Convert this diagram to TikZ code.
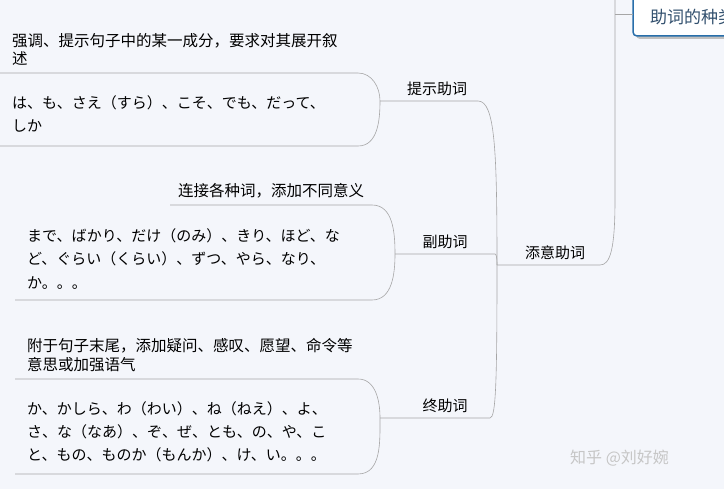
\documentclass[tikz,border=0pt]{standalone}
\usepackage{fontspec}
\setmainfont{Noto Sans CJK SC}
\begin{document}
\begin{tikzpicture}[x=1pt,y=-1pt,
  lbl/.style={anchor=west,inner sep=0pt,font=\fontsize{15}{18}\selectfont,text=black},
  br/.style={draw=gray!70,line width=0.6pt},
  lnk/.style={draw=gray!70,line width=0.6pt}]
\fill[fill={rgb,255:red,244;green,246;blue,251}] (0,0) rectangle (724,489);
\useasboundingbox (0,0) rectangle (724,489);
\begin{scope}
\clip (0,0) rectangle (724,489);
\fill[black!25,rounded corners=4pt] (636,-10) rectangle (730,39);
\draw[draw={rgb,255:red,40;green,110;blue,170},line width=1.5pt,fill=white,rounded corners=4pt] (633,-10) rectangle (740,36);
\node[anchor=west,inner sep=0pt,font=\fontsize{17}{20}\selectfont,text={rgb,255:red,50;green,80;blue,110}] (root) at (650,17) {助词的种类};
\end{scope}
\coordinate (rootL) at (633,14);
\coordinate (top) at (615,0);
\coordinate (tyE) at (600,265);
\coordinate (tyW) at (497,265);
\coordinate (tsE) at (478,101);
\coordinate (tsW) at (380,101);
\coordinate (fE) at (495,254);
\coordinate (fW) at (395,254);
\coordinate (zE) at (490,418);
\coordinate (zW) at (380,418);
% trunk
\draw[lnk] (rootL) -- (615,14);
\draw[lnk] (top) -- (615,200) .. controls (615,250) and (610,265) .. (tyE) -- (tyW);
\node[lbl,anchor=south] (ty) at (555,260) {添意助词};
\draw[lnk] (tyW) .. controls (497,150) and (495,101) .. (tsE) -- (tsW);
\draw[lnk] (tyW) .. controls (497,256) and (496,254) .. (fE) -- (fW);
\draw[lnk] (tyW) .. controls (497,380) and (496,418) .. (zE) -- (zW);
\node[lbl,anchor=south] (ts) at (437,96) {提示助词};
\node[lbl,anchor=south] (f) at (445,249) {副助词};
\node[lbl,anchor=south] (z) at (445,413) {终助词};
% group 1
\draw[br] (0,73) -- (358,73) to[out=0,in=90] (tsW) to[out=-90,in=0] (358,146) -- (0,146);
\node[lbl,align=left,anchor=north west,font=\fontsize{15.5}{18}\selectfont] (t1a) at (12,33) {强调、提示句子中的某一成分，要求对其展开叙\\述};
\node[lbl,align=left,anchor=north west,font=\fontsize{15}{23}\selectfont] (t1b) at (12,95) {は、も、さえ（すら）、こそ、でも、だって、\\しか};
% group 2
\draw[br] (170,205) -- (372,205) to[out=0,in=90] (fW) to[out=-90,in=0] (372,300) -- (15,300);
\node[lbl,font=\fontsize{15.5}{18}\selectfont] (t2a) at (178,191) {连接各种词，添加不同意义};
\node[lbl,align=left,anchor=north west,font=\fontsize{15}{23.5}\selectfont] (t2b) at (27,228) {まで、ばかり、だけ（のみ）、きり、ほど、な\\ど、ぐらい（くらい）、ずつ、やら、なり、\\か。。。};
% group 3
\draw[br] (15,379) -- (358,379) to[out=0,in=90] (zW) to[out=-90,in=0] (358,474) -- (15,474);
\node[lbl,align=left,anchor=north west,font=\fontsize{15.5}{19}\selectfont] (t3a) at (27,338) {附于句子末尾，添加疑问、感叹、愿望、命令等\\意思或加强语气};
\node[lbl,align=left,anchor=north west,font=\fontsize{15}{23}\selectfont] (t3b) at (27,401) {か、かしら、わ（わい）、ね（ねえ）、よ、\\さ、な（なあ）、ぞ、ぜ、とも、の、や、こ\\と、もの、ものか（もんか）、け、い。。。};
\node[anchor=west,inner sep=0pt,font=\fontsize{16}{18}\selectfont,text=gray!45] (wm) at (570,458) {知乎 @刘好婉};
\end{tikzpicture}
\end{document}
